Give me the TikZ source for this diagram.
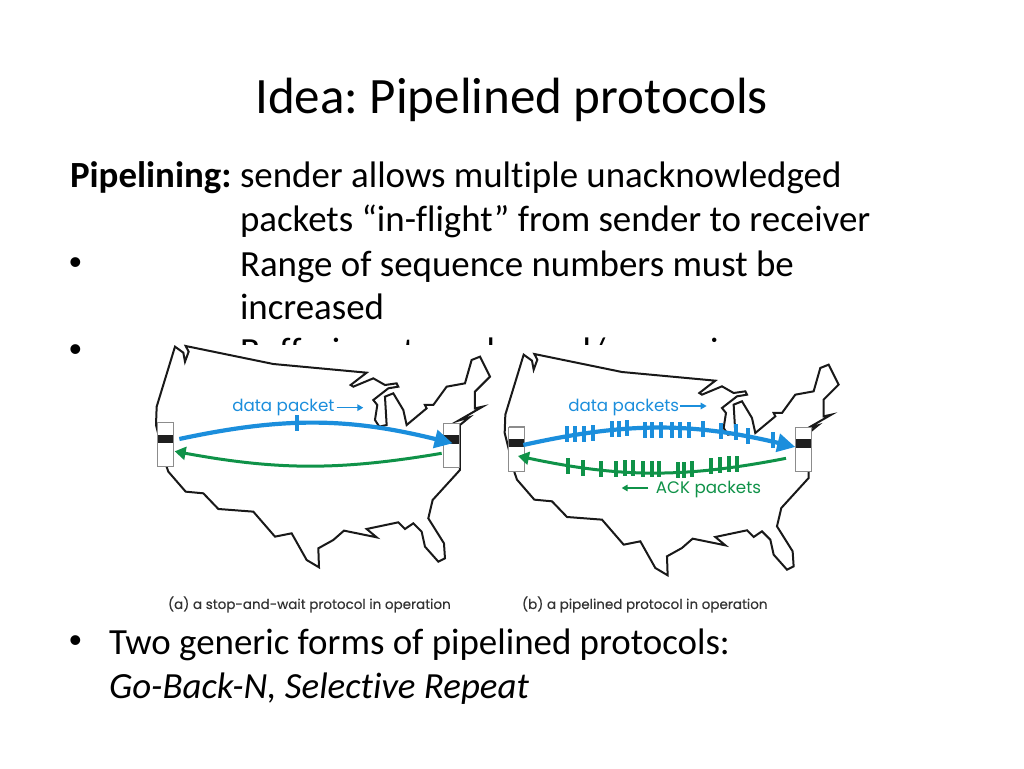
\documentclass[tikz,border=0pt]{standalone}
\usepackage{fontspec}
\setmainfont[Ligatures={NoCommon}]{Carlito}
\newfontfamily\capfont[FakeBold=0.25]{Poppins}
\newfontfamily\labelfont{Poppins}
\newfontfamily\dotfont{Liberation Sans}
\usetikzlibrary{arrows.meta}
\definecolor{datablue}{HTML}{1B8EDC}
\definecolor{ackgreen}{HTML}{0F9248}
\definecolor{boxgray}{HTML}{8C8C8C}
\newcommand{\usmap}{(105,50) -- (130,68) -- (135,95) -- (146,65) -- (137,48) -- (400,102) -- (680,128)
-- (632,165) -- (640,170) -- (700,145) -- (735,165) -- (770,160) -- (775,170) -- (745,175) -- (700,210)
-- (712,225) -- (705,270) -- (718,290) -- (740,285) -- (735,200) -- (760,190) -- (790,240) -- (800,285)
-- (860,235) -- (855,225) -- (880,225) -- (920,170) -- (975,160) -- (995,90) -- (1020,80) -- (1050,140)
-- (1005,185) -- (1005,235) -- (1028,230) -- (955,272) -- (988,262) -- (960,285) -- (960,420) -- (878,510)
-- (865,565) -- (912,640) -- (915,685) -- (895,695) -- (855,650) -- (845,605) -- (820,580) -- (795,597)
-- (775,577) -- (680,597) -- (710,622) -- (612,602) -- (580,630) -- (535,655) -- (537,712) -- (500,690)
-- (455,610) -- (405,620) -- (340,545) -- (235,537) -- (190,490) -- (137,485) -- (85,425) -- (78,405)
-- (48,285) -- (50,230) -- cycle}

\begin{document}
\frenchspacing
\begin{tikzpicture}[x=1pt,y=-1pt,
every node/.style={inner sep=0pt,outer sep=0pt},
slidetext/.style={anchor=base west,font=\fontsize{36.9}{40}\selectfont},
dottext/.style={anchor=base west,font=\dotfont\fontsize{36}{40}\selectfont},
capt/.style={anchor=base west,text=black!80,font=\capfont\fontsize{13.5}{16}\selectfont},
datatext/.style={anchor=base west,text=datablue,font=\labelfont\fontsize{16.7}{18}\selectfont},
acktext/.style={anchor=base west,text=ackgreen,font=\labelfont\fontsize{16.7}{18}\selectfont},
hostbox/.style={draw=boxgray,line width=0.9pt,fill=white,minimum width=16pt,minimum height=44pt},
hostband/.style={fill=black!88,minimum width=15.5pt,minimum height=8.5pt},
maproute/.style={draw=black!90,line width=2pt,line join=miter},
databig/.style={datablue,line width=4.2pt,-{Triangle[length=18pt,width=18pt]}},
ackbig/.style={ackgreen,line width=3pt,-{Triangle[length=11pt,width=13pt]}},
datasmall/.style={datablue,line width=1.5pt,-{Triangle[length=6pt,width=6.5pt]}},
acksmall/.style={ackgreen,line width=1.5pt,-{Triangle[length=6pt,width=6.5pt]}},
packetmark/.style={minimum width=4pt,minimum height=16pt}]
\useasboundingbox (0,0) rectangle (1024,768);

% slide text
\node (title) [anchor=base,font=\fontsize{51}{54}\selectfont] at (511.5,113) {Idea: Pipelined protocols};
\node (pipe) [slidetext,font=\bfseries\fontsize{36.9}{40}\selectfont] at (70,187) {Pipelining:};
\node (line1) [slidetext] at (240,187) {sender allows multiple unacknowledged};
\node (line2) [slidetext] at (240,231) {packets “in-flight” from sender to receiver};
\node (dot1) [dottext] at (69,274) {•};
\node (line3) [slidetext] at (240,276) {Range of sequence numbers must be};
\node (line4) [slidetext] at (240,319) {increased};
\node (dot2) [dottext] at (69,361) {•};
\node (line5) [slidetext] at (240,363) {Buffering at sender and/or receiver};
\node (dot3) [dottext] at (69,652) {•};
\node (line6) [slidetext] at (109,654) {Two generic forms of pipelined protocols:};
\node (line7) [slidetext,font=\itshape\fontsize{36.9}{40}\selectfont] at (109,698) {Go-Back-N, Selective Repeat};

% picture covers the slide text
\fill [white] (150,345) rectangle (842,622);

% (a) stop and wait
\begin{scope}[shift={(140,330)},x=0.3333pt,y=-0.3333pt]
\draw [maproute] \usmap;
\node (hostAl) [hostbox] at (76,344) {};
\node (hostAr) [hostbox] at (935,347) {};
\node (bandAl) [hostband] at (76,327) {};
\node (bandAr) [hostband] at (936,328) {};
\draw [boxgray,line width=1.6pt] (hostAl.north west) -- (hostAl.north east) -- (hostAl.south east);
\draw [boxgray,line width=1.6pt] (hostAr.north west) -- (hostAr.north east) -- (hostAr.south east);
\coordinate (dataAs) at (118,327);
\coordinate (dataAe) at (938,340);
\coordinate (ackAs) at (905,370);
\coordinate (ackAe) at (104,364);
\draw [databig] (dataAs) to[bend left=13] (dataAe);
\draw [ackbig] (ackAs) to[bend left=10] (ackAe);
\node (tickA) [fill=datablue,packetmark] at (470,278) {};
\node (labA) [datatext] at (277,245) {data packet};
\coordinate (labAs) at (590,233);
\coordinate (labAe) at (670,233);
\draw [datasmall] (labAs) -- (labAe);
\node (capA) [capt] at (84,837) {(a) a stop-and-wait protocol in operation};
\end{scope}

% (b) pipelined
\begin{scope}[shift={(490,330)},x=0.3333pt,y=-0.3333pt]
\begin{scope}[shift={(-4,24)}]
\draw [maproute] \usmap;
\end{scope}
\node (hostBl) [hostbox] at (80,357) {};
\node (hostBr) [hostbox] at (940,358) {};
\node (bandBl) [hostband] at (80,339) {};
\node (bandBr) [hostband] at (940,340) {};
\draw [boxgray,line width=1.6pt] (hostBl.north west) -- (hostBl.north east) -- (hostBl.south east);
\draw [boxgray,line width=1.6pt] (hostBr.north west) -- (hostBr.north east) -- (hostBr.south east);
\coordinate (dataBs) at (100,345);
\coordinate (dataBe) at (916,351);
\coordinate (ackBs) at (888,385);
\coordinate (ackBe) at (84,378);
\draw [databig] (dataBs) to[bend left=13] (dataBe);
\draw [ackbig] (ackBs) to[bend left=11.5] (ackBe);
\foreach \tx/\ty in {232/312,255/312,281/313,308/310,365/297,387/297,411/295,465/300,487/300,
513/300,545/300,570/300,597/300,638/296,692/302,738/306,773/317,850/331}
\node [fill=datablue,packetmark] at (\tx,\ty) {};
\foreach \tx/\ty in {235/407,280/413,333/418,378/416,404/415,428/415,460/416,486/416,508/416,
563/420,583/420,607/418,663/407,690/405,716/402,741/402}
\node [fill=ackgreen,packetmark] at (\tx,\ty) {};
\node (labB) [datatext] at (235,245) {data packets};
\coordinate (labBs) at (570,228);
\coordinate (labBe) at (650,228);
\draw [datasmall] (labBs) -- (labBe);
\coordinate (ackLs) at (475,474);
\coordinate (ackLe) at (395,474);
\draw [acksmall] (ackLs) -- (ackLe);
\node (labC) [acktext] at (498,492) {ACK packets};
\node (capB) [capt] at (96,837) {(b) a pipelined protocol in operation};
\end{scope}
\end{tikzpicture}
\end{document}
